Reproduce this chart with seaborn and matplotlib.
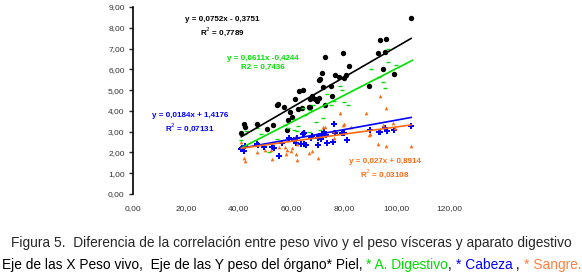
import pandas as pd
import matplotlib
matplotlib.use("Agg")
import matplotlib.pyplot as plt
import seaborn as sns
from matplotlib.ticker import FuncFormatter

# Piel (black)
piel_x = [41.0, 42.0, 42.3, 47.1, 50.7, 53.0, 54.7, 55.1, 57.2, 58.5, 58.7, 59.5, 60.2, 61.4,
          62.6, 63.1, 64.0, 64.5, 66.8, 67.2, 67.0, 67.8, 69.1, 69.8, 70.4, 70.5, 71.0, 71.5,
          72.0, 72.9, 72.9, 74.9, 75.4, 76.5, 78.1, 79.5, 79.9, 80.9, 82.0, 89.6, 92.7, 93.7,
          94.7, 95.7, 95.9, 98.8, 105.3]
piel_y = [2.96, 3.35, 3.24, 3.38, 3.15, 3.33, 4.28, 4.31, 4.20, 3.08, 3.56, 3.96, 3.72, 4.57,
          4.07, 4.95, 4.15, 5.00, 4.18, 4.20, 4.57, 4.73, 4.57, 4.50, 4.63, 5.48, 5.53, 5.82,
          5.13, 6.59, 4.26, 5.19, 4.73, 5.75, 5.61, 6.79, 5.56, 5.72, 6.15, 5.19, 6.79, 7.39,
          6.03, 6.83, 7.45, 5.77, 8.48]

# A. Digestivo (green)
dig_x = [41.1, 42.3, 43.0, 47.1, 48.4, 51.5, 54.4, 57.6, 58.7, 61.1, 61.4, 62.0, 62.7, 64.3,
         64.5, 65.3, 66.8, 67.0, 68.3, 69.3, 71.0, 72.1, 73.5, 75.0, 76.3, 78.6, 79.1, 80.1,
         81.6, 90.3, 93.4, 94.6, 95.4, 96.5, 96.5, 99.5]
dig_y = [2.61, 2.87, 3.03, 3.19, 2.88, 2.03, 2.64, 3.32, 3.16, 3.08, 3.59, 3.04, 3.28, 3.03,
         4.12, 3.81, 2.97, 4.04, 4.28, 3.48, 3.08, 3.67, 4.83, 4.26, 4.49, 5.19, 5.00, 4.44,
         4.28, 6.00, 5.64, 5.40, 5.11, 6.33, 6.99, 6.23]

# Cabeza (blue)
cab_x = [40.8, 41.4, 42.0, 42.3, 47.1, 47.5, 49.6, 52.8, 53.4, 55.4, 56.6, 59.2, 61.1, 61.7,
         62.3, 63.6, 64.5, 64.9, 64.9, 65.5, 67.4, 67.9, 70.0, 70.2, 70.6, 71.2, 71.9, 72.3,
         73.1, 73.5, 75.7, 76.3, 76.6, 79.1, 80.1, 81.0, 89.8, 93.1, 93.8, 95.4, 96.1, 99.0,
         105.5]
cab_y = [2.16, 2.22, 2.08, 2.31, 2.39, 2.36, 2.27, 2.27, 2.20, 1.84, 2.44, 2.68, 2.60, 2.44,
         2.71, 2.39, 2.87, 2.92, 2.39, 2.36, 2.68, 2.79, 2.71, 2.37, 2.80, 2.63, 2.84, 2.97,
         2.84, 2.47, 2.52, 3.37, 2.95, 2.92, 2.95, 2.60, 3.06, 2.97, 2.97, 3.16, 3.04, 3.08,
         3.28]

# Sangre (orange)
san_x = [41.1, 42.0, 42.4, 47.1, 49.9, 52.2, 52.6, 55.4, 57.6, 57.9, 58.5, 59.8, 60.2, 61.4,
         61.7, 62.0, 62.3, 66.8, 67.7, 70.0, 71.9, 72.8, 75.7, 76.3, 78.6, 79.5, 80.1, 82.7,
         88.4, 89.6, 90.0, 92.8, 93.8, 94.7, 96.0, 96.0, 98.7, 99.2, 105.5]
san_y = [2.52, 1.75, 1.57, 2.00, 2.12, 2.12, 1.67, 2.27, 2.24, 1.91, 2.12, 2.08, 2.20, 2.76,
         1.91, 2.39, 1.63, 1.96, 2.08, 1.72, 3.22, 3.21, 3.04, 2.68, 3.88, 3.32, 3.37, 3.24,
         3.88, 2.84, 2.87, 2.40, 4.74, 3.32, 4.15, 2.29, 3.43, 3.16, 2.29]

series = ["Piel", "A. Digestivo", "Cabeza", "Sangre"]
colors = ["#000000", "#00e000", "#0000ff", "#ff6a10"]
markers = ["o", "_", "P", "^"]
# trend lines as drawn in the picture (slope, intercept, x range)
slopes = [0.0735, 0.065, 0.023, 0.0174]
intercepts = [-0.26, -0.45, 1.26, 1.49]
x_start = [41.0, 41.0, 41.0, 41.0]
x_end = [105.5, 106.0, 105.5, 105.5]
eq_text = ["y = 0,0752x - 0,3751\nR$^2$ = 0,7789",
           "y = 0,0611x -0,4244\nR2 = 0,7436",
           "y = 0,0184x + 1,4176\nR$^2$ = 0,07131",
           "y = 0,027x + 0,8914\nR$^2$ = 0,03108"]
eq_pos = [(33.9, 8.03), (49.1, 6.30), (21.7, 3.41), (95.6, 1.20)]

df = pd.concat([
    pd.DataFrame({"x": piel_x, "y": piel_y, "serie": "Piel"}),
    pd.DataFrame({"x": dig_x, "y": dig_y, "serie": "A. Digestivo"}),
    pd.DataFrame({"x": cab_x, "y": cab_y, "serie": "Cabeza"}),
    pd.DataFrame({"x": san_x, "y": san_y, "serie": "Sangre"}),
])

sns.set_style("white")
plt.rcParams['font.family'] = ['Liberation Sans', 'DejaVu Sans']

fig = plt.figure(figsize=(5.82, 2.75), dpi=100)
ax = fig.add_axes([0.2285, 0.2945, 0.544, 0.68])

sizes = {"Piel": 15, "A. Digestivo": 8, "Cabeza": 16, "Sangre": 7}
for s, c, m in zip(series, colors, markers):
    sub = df[df.serie == s]
    sns.scatterplot(data=sub, x="x", y="y", color=c, marker=m, s=sizes[s],
                    linewidth=1.0 if m == "_" else 0, edgecolor=c, ax=ax, legend=False, zorder=3)

for i, c in enumerate(colors):
    xs = [x_start[i], x_end[i]]
    ys = [slopes[i] * v + intercepts[i] for v in xs]
    ax.plot(xs, ys, color=c, lw=1.2, zorder=4)
    ax.text(eq_pos[i][0], eq_pos[i][1], eq_text[i], color=c, fontsize=5.8, fontweight="bold",
            ha="center", va="center", linespacing=1.3)

ax.set_xlim(0, 120)
ax.set_ylim(0, 9)
ax.set_xticks([0, 20, 40, 60, 80, 100, 120])
ax.set_yticks(range(0, 10))
fmt = FuncFormatter(lambda v, p: f"{v:.2f}".replace(".", ","))
ax.xaxis.set_major_formatter(fmt)
ax.yaxis.set_major_formatter(fmt)
ax.tick_params(axis="y", length=3, width=1, direction="out", left=True, labelsize=6, pad=3,
               labelcolor="#333333")
ax.tick_params(axis="x", length=0, labelsize=6, pad=8, labelcolor="#333333")
for sp in ["top", "right", "bottom"]:
    ax.spines[sp].set_visible(False)
ax.spines["left"].set_color("black")
ax.spines["left"].set_linewidth(1.2)
ax.set_xlabel("")
ax.set_ylabel("")
ax.grid(False)

fig.text(0.5, 0.118, "Figura 5.  Diferencia de la correlación entre peso vivo y el peso vísceras y aparato digestivo",
         ha="center", va="center", fontsize=9.9)

# second caption line with coloured pieces
pieces = [("Eje de las X Peso vivo,  Eje de las Y peso del órgano* Piel, ", "black"),
          ("* A. Digestivo", "#00dd00"), (", ", "black"),
          ("* Cabeza", "#0000ff"), (" , ", "black"), ("* Sangre.", "#ff7f3f")]
renderer = fig.canvas.get_renderer()
xpos = 0.003
for txt, col in pieces:
    t = fig.text(xpos, 0.038, txt, color=col, fontsize=9.9, ha="left", va="center")
    bb = t.get_window_extent(renderer=renderer)
    xpos += bb.width / fig.bbox.width

fig.savefig("out.png", dpi=100)
